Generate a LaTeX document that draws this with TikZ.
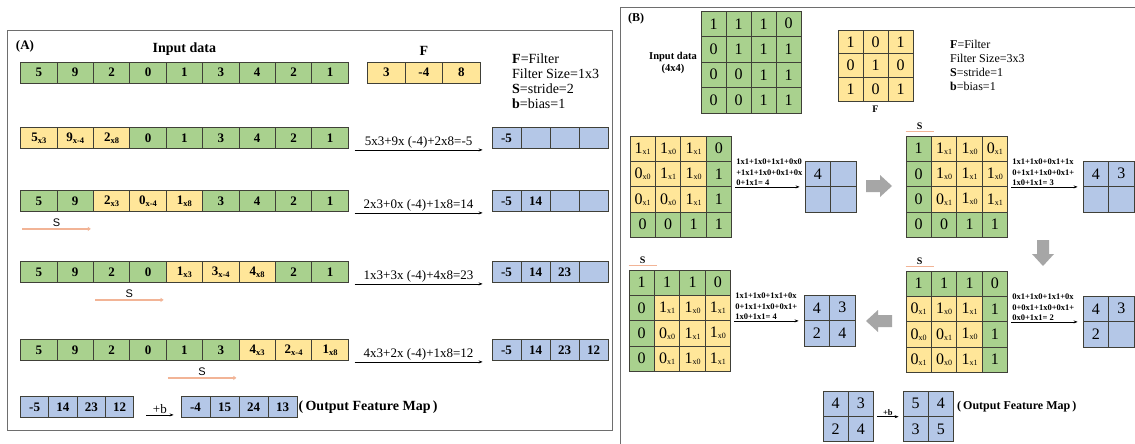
\documentclass[tikz,border=0pt]{standalone}
\usepackage{fontspec}
\setmainfont{Liberation Serif}
\newfontfamily\arialf{Liberation Sans}
\usetikzlibrary{positioning, arrows.meta}

\definecolor{cgreen}{RGB}{169,209,142}
\definecolor{cyel}{RGB}{255,230,153}
\definecolor{cblue}{RGB}{180,199,231}
\definecolor{cline}{RGB}{64,64,56}
\definecolor{csalmon}{RGB}{242,180,150}
\definecolor{cframe}{RGB}{110,110,110}
\definecolor{cgray}{RGB}{166,166,166}

\newcommand{\sba}[1]{\raisebox{-2pt}{\fontsize{8.5}{8.5}\selectfont\bfseries #1}}
\newcommand{\sbb}[1]{\raisebox{-1pt}{\fontsize{8}{8}\selectfont #1}}

\begin{document}
\begin{tikzpicture}[x=1pt, y=-1pt,
		acell/.style={rectangle, draw=cline, line width=0.8pt, inner sep=0pt, minimum width=36.4pt, minimum height=21pt, font=\fontsize{13}{15}\selectfont\bfseries},
		ocell/.style={acell, fill=cblue, minimum width=29pt},
		bcell/.style={rectangle, draw=cline, line width=0.8pt, inner sep=0pt, minimum width=25.4pt, minimum height=25.3pt, font=\fontsize{16}{16}\selectfont},
		qcell/.style={bcell, fill=cblue, minimum width=25.5pt, minimum height=25.5pt},
		fml/.style={-{Stealth[length=4pt, width=3pt]}, line width=0.6pt},
		fmltxt/.style={font=\fontsize{13}{15}\selectfont, inner sep=1pt},
		btxt/.style={font=\fontsize{8.5}{10.5}\selectfont\bfseries, align=left, inner sep=1pt},
		legA/.style={anchor=west, inner sep=0pt, font=\fontsize{14}{16}\selectfont},
		legB/.style={anchor=west, inner sep=0pt, font=\fontsize{12}{14}\selectfont},
		salmA/.style={draw=csalmon, line width=2pt, -{Triangle[length=3pt, width=4pt]}},
		salmB/.style={draw=csalmon, line width=1.5pt},
		sA/.style={font=\arialf\fontsize{11}{11}\selectfont, inner sep=1pt},
		sB/.style={font=\fontsize{10}{10}\selectfont\bfseries, inner sep=1pt},
		frm/.style={draw=cframe, line width=0.8pt}
	]
	\fill[white] (0,0) rectangle (1135,444);
	\useasboundingbox (0,0) rectangle (1135,444);

	% (A) one dimension
	\draw[frm] (7,30) rectangle (612,430);
	\node[font=\fontsize{13}{15}\selectfont\bfseries] (labA) at (25,46) {(A)};

	\foreach \v [count=\i] in {5,9,2,0,1,3,4,2,1}
		\node[acell, fill=cgreen] (a1-\i) at ({20.6+36.4*(\i-0.5)}, 72.5) {\v};
	\foreach \v [count=\i] in {3,-4,8}
		\node[acell, fill=cyel, minimum width=37.5pt] (fa-\i) at ({367.6+37.5*(\i-0.5)}, 72.5) {\v};
	\node[above=3pt of a1-5, font=\fontsize{14}{16}\selectfont\bfseries] (inA) {Input data};
	\node[above=3pt of fa-2, font=\fontsize{14}{16}\selectfont\bfseries] (fA) {F};

	\node[legA] (lA1) at (512,59) {\textbf{F}=Filter};
	\node[legA] (lA2) at (512,74) {Filter Size=1x3};
	\node[legA] (lA3) at (512,89) {\textbf{S}=stride=2};
	\node[legA] (lA4) at (512,104) {\textbf{b}=bias=1};

	\foreach \v/\c [count=\i] in {5\sba{x3}/cyel, 9\sba{x-4}/cyel, 2\sba{x8}/cyel, 0/cgreen, 1/cgreen, 3/cgreen, 4/cgreen, 2/cgreen, 1/cgreen}
		\node[acell, fill=\c] (a2-\i) at ({20.6+36.4*(\i-0.5)}, 138) {\v};
	\foreach \v [count=\i] in {-5,{},{},{}}
		\node[ocell] (o2-\i) at ({492+29*(\i-0.5)}, 138) {\v};

	\foreach \v/\c [count=\i] in {5/cgreen, 9/cgreen, 2\sba{x3}/cyel, 0\sba{x-4}/cyel, 1\sba{x8}/cyel, 3/cgreen, 4/cgreen, 2/cgreen, 1/cgreen}
		\node[acell, fill=\c] (a3-\i) at ({20.6+36.4*(\i-0.5)}, 201) {\v};
	\foreach \v [count=\i] in {-5,14,{},{}}
		\node[ocell] (o3-\i) at ({492+29*(\i-0.5)}, 201) {\v};

	\foreach \v/\c [count=\i] in {5/cgreen, 9/cgreen, 2/cgreen, 0/cgreen, 1\sba{x3}/cyel, 3\sba{x-4}/cyel, 4\sba{x8}/cyel, 2/cgreen, 1/cgreen}
		\node[acell, fill=\c] (a4-\i) at ({20.6+36.4*(\i-0.5)}, 272) {\v};
	\foreach \v [count=\i] in {-5,14,23,{}}
		\node[ocell] (o4-\i) at ({492+29*(\i-0.5)}, 272) {\v};

	\foreach \v/\c [count=\i] in {5/cgreen, 9/cgreen, 2/cgreen, 0/cgreen, 1/cgreen, 3/cgreen, 4\sba{x3}/cyel, 2\sba{x-4}/cyel, 1\sba{x8}/cyel}
		\node[acell, fill=\c] (a5-\i) at ({20.6+36.4*(\i-0.5)}, 350) {\v};
	\foreach \v [count=\i] in {-5,14,23,12}
		\node[ocell] (o5-\i) at ({492+29*(\i-0.5)}, 350) {\v};

	\foreach \r/\t in {2/5x3+9x (-4)+2x8=-5, 3/2x3+0x (-4)+1x8=14, 4/1x3+3x (-4)+4x8=23, 5/4x3+2x (-4)+1x8=12}
		\draw[fml] ([shift={(6,1)}]a\r-9.south east) -- ([shift={(-9,1)}]o\r-1.south west) node[midway, above, fmltxt] {\t};

	\foreach \r/\i/\j in {3/1/2, 4/3/4, 5/5/6}
		\draw[salmA] ([shift={(2,17)}]a\r-\i.south west) -- ([shift={(-3,17)}]a\r-\j.south east) node[midway, above, sA] {S};

	\foreach \v [count=\i] in {-5,14,23,12}
		\node[ocell, minimum width=28.3pt] (p1-\i) at ({20.5+28.3*(\i-0.5)}, 407) {\v};
	\foreach \v [count=\i] in {-4,15,24,13}
		\node[ocell] (p2-\i) at ({181+29*(\i-0.5)}, 407) {\v};
	\draw[fml] ([shift={(12,-3)}]p1-4.south east) -- ([shift={(-7,-3)}]p2-1.south west) node[midway, above, fmltxt] {+b};
	\node[anchor=west, inner sep=0pt, font=\fontsize{14}{16}\selectfont\bfseries] (ofmA) at ([xshift=1pt]p2-4.east) {(\,Output Feature Map\,)};

	% (B) two dimensions
	\draw[frm] (620,444) -- (620,7) -- (1135,7);
	\node[font=\fontsize{12}{14}\selectfont\bfseries] (labB) at (636,19) {(B)};

	\foreach \row [count=\r] in {{1,1,1,0},{0,1,1,1},{0,0,1,1},{0,0,1,1}}
		\foreach \v [count=\c] in \row
			\node[bcell, fill=cgreen, minimum width=25pt, minimum height=25.5pt] (in-\r-\c) at ({701+25*(\c-0.5)}, {11+25.5*(\r-0.5)}) {\v};
	\node[align=center, font=\fontsize{10.5}{12}\selectfont\bfseries] (inB) at (673,63) {Input data\\(4x4)};

	\foreach \row [count=\r] in {{1,0,1},{0,1,0},{1,0,1}}
		\foreach \v [count=\c] in \row
			\node[bcell, fill=cyel, minimum width=25pt, minimum height=23.7pt] (fb-\r-\c) at ({838+25*(\c-0.5)}, {30+23.7*(\r-0.5)}) {\v};
	\node[below=1pt of fb-3-2, font=\fontsize{10}{12}\selectfont\bfseries] (fB) {F};

	\node[legB] (lB1) at (950,44) {\textbf{F}=Filter};
	\node[legB] (lB2) at (950,58) {Filter Size=3x3};
	\node[legB] (lB3) at (950,72) {\textbf{S}=stride=1};
	\node[legB] (lB4) at (950,86) {\textbf{b}=bias=1};

	% step 1
	\foreach \row [count=\r] in {{1\sbb{x1}/cyel,1\sbb{x0}/cyel,1\sbb{x1}/cyel,0/cgreen},{0\sbb{x0}/cyel,1\sbb{x1}/cyel,1\sbb{x0}/cyel,1/cgreen},{0\sbb{x1}/cyel,0\sbb{x0}/cyel,1\sbb{x1}/cyel,1/cgreen},{0/cgreen,0/cgreen,1/cgreen,1/cgreen}}
		\foreach \v/\c [count=\k] in \row
			\node[bcell, fill=\c] (ga-\r-\k) at ({630+25.4*(\k-0.5)}, {136+25.3*(\r-0.5)}) {\v};
	\foreach \v [count=\i] in {4,{},{},{}}
		\node[qcell] (qa-\i) at ({805+25.5*(mod(\i-1,2)+0.5)}, {161+25.5*(int((\i-1)/2)+0.5)}) {\v};
	\draw[fml] ([xshift=3pt]ga-1-4.east |- qa-1.south west) -- ([xshift=-5pt]qa-1.south west) node[pos=0, anchor=south west, btxt] {1x1+1x0+1x1+0x0\\+1x1+1x0+0x1+0x\\0+1x1= 4};

	% step 2
	\foreach \row [count=\r] in {{1/cgreen,1\sbb{x1}/cyel,1\sbb{x0}/cyel,0\sbb{x1}/cyel},{0/cgreen,1\sbb{x0}/cyel,1\sbb{x1}/cyel,1\sbb{x0}/cyel},{0/cgreen,0\sbb{x1}/cyel,1\sbb{x0}/cyel,1\sbb{x1}/cyel},{0/cgreen,0/cgreen,1/cgreen,1/cgreen}}
		\foreach \v/\c [count=\k] in \row
			\node[bcell, fill=\c] (gb-\r-\k) at ({906+25.4*(\k-0.5)}, {136+25.3*(\r-0.5)}) {\v};
	\foreach \v [count=\i] in {4,3,{},{}}
		\node[qcell] (qb-\i) at ({1083+25.5*(mod(\i-1,2)+0.5)}, {161+25.5*(int((\i-1)/2)+0.5)}) {\v};
	\draw[fml] ([xshift=3pt]gb-1-4.east |- qb-1.south west) -- ([xshift=-5pt]qb-1.south west) node[pos=0, anchor=south west, btxt] {1x1+1x0+0x1+1x\\0+1x1+1x0+0x1+\\1x0+1x1= 3};

	% step 3
	\foreach \row [count=\r] in {{1/cgreen,1/cgreen,1/cgreen,0/cgreen},{0\sbb{x1}/cyel,1\sbb{x0}/cyel,1\sbb{x1}/cyel,1/cgreen},{0\sbb{x0}/cyel,0\sbb{x1}/cyel,1\sbb{x0}/cyel,1/cgreen},{0\sbb{x1}/cyel,0\sbb{x0}/cyel,1\sbb{x1}/cyel,1/cgreen}}
		\foreach \v/\c [count=\k] in \row
			\node[bcell, fill=\c] (gc-\r-\k) at ({906+25.4*(\k-0.5)}, {271+25.3*(\r-0.5)}) {\v};
	\foreach \v [count=\i] in {4,3,2,{}}
		\node[qcell] (qc-\i) at ({1083+25.5*(mod(\i-1,2)+0.5)}, {296+25.5*(int((\i-1)/2)+0.5)}) {\v};
	\draw[fml] ([xshift=3pt]gc-1-4.east |- qc-1.south west) -- ([xshift=-5pt]qc-1.south west) node[pos=0, anchor=south west, btxt] {0x1+1x0+1x1+0x\\0+0x1+1x0+0x1+\\0x0+1x1= 2};

	% step 4
	\foreach \row [count=\r] in {{1/cgreen,1/cgreen,1/cgreen,0/cgreen},{0/cgreen,1\sbb{x1}/cyel,1\sbb{x0}/cyel,1\sbb{x1}/cyel},{0/cgreen,0\sbb{x0}/cyel,1\sbb{x1}/cyel,1\sbb{x0}/cyel},{0/cgreen,0\sbb{x1}/cyel,1\sbb{x0}/cyel,1\sbb{x1}/cyel}}
		\foreach \v/\c [count=\k] in \row
			\node[bcell, fill=\c] (gd-\r-\k) at ({629+25.4*(\k-0.5)}, {270+25.3*(\r-0.5)}) {\v};
	\foreach \v [count=\i] in {4,3,2,4}
		\node[qcell] (qd-\i) at ({804+25.5*(mod(\i-1,2)+0.5)}, {295+25.5*(int((\i-1)/2)+0.5)}) {\v};
	\draw[fml] ([xshift=3pt]gd-1-4.east |- qd-1.south west) -- ([xshift=-5pt]qd-1.south west) node[pos=0, anchor=south west, btxt] {1x1+1x0+1x1+0x\\0+1x1+1x0+0x1+\\1x0+1x1= 4};

	\foreach \g in {gb, gc, gd}
		\draw[salmB] ([shift={(0,-4)}]\g-1-1.north west) -- ([shift={(2,-4)}]\g-1-1.north east) node[midway, above, sB] {S};

	% gray block arrows
	\foreach \x/\y/\a in {879/186/0, 1043/253/-90, 879/321/180}
		\fill[cgray, shift={(\x,\y)}, rotate=\a] (-13,-6) -- (1,-6) -- (1,-11) -- (13,0) -- (1,11) -- (1,6) -- (-13,6) -- cycle;

	% bias
	\foreach \v [count=\i] in {4,3,2,4}
		\node[qcell, minimum width=25.3pt, minimum height=25.3pt] (ra-\i) at ({823+25.3*(mod(\i-1,2)+0.5)}, {391+25.3*(int((\i-1)/2)+0.5)}) {\v};
	\foreach \v [count=\i] in {5,4,3,5}
		\node[qcell, minimum width=25.3pt, minimum height=25.3pt] (rb-\i) at ({903+25.3*(mod(\i-1,2)+0.5)}, {391+25.3*(int((\i-1)/2)+0.5)}) {\v};
	\draw[fml] ([xshift=3pt]ra-2.south east) -- ([xshift=-4pt]rb-1.south west) node[midway, above, btxt] {+b};
	\node[anchor=west, inner sep=0pt, font=\fontsize{12}{14}\selectfont\bfseries] (ofmB) at ([shift={(3,3)}]rb-2.east) {(\,Output Feature Map\,)};
\end{tikzpicture}
\end{document}
